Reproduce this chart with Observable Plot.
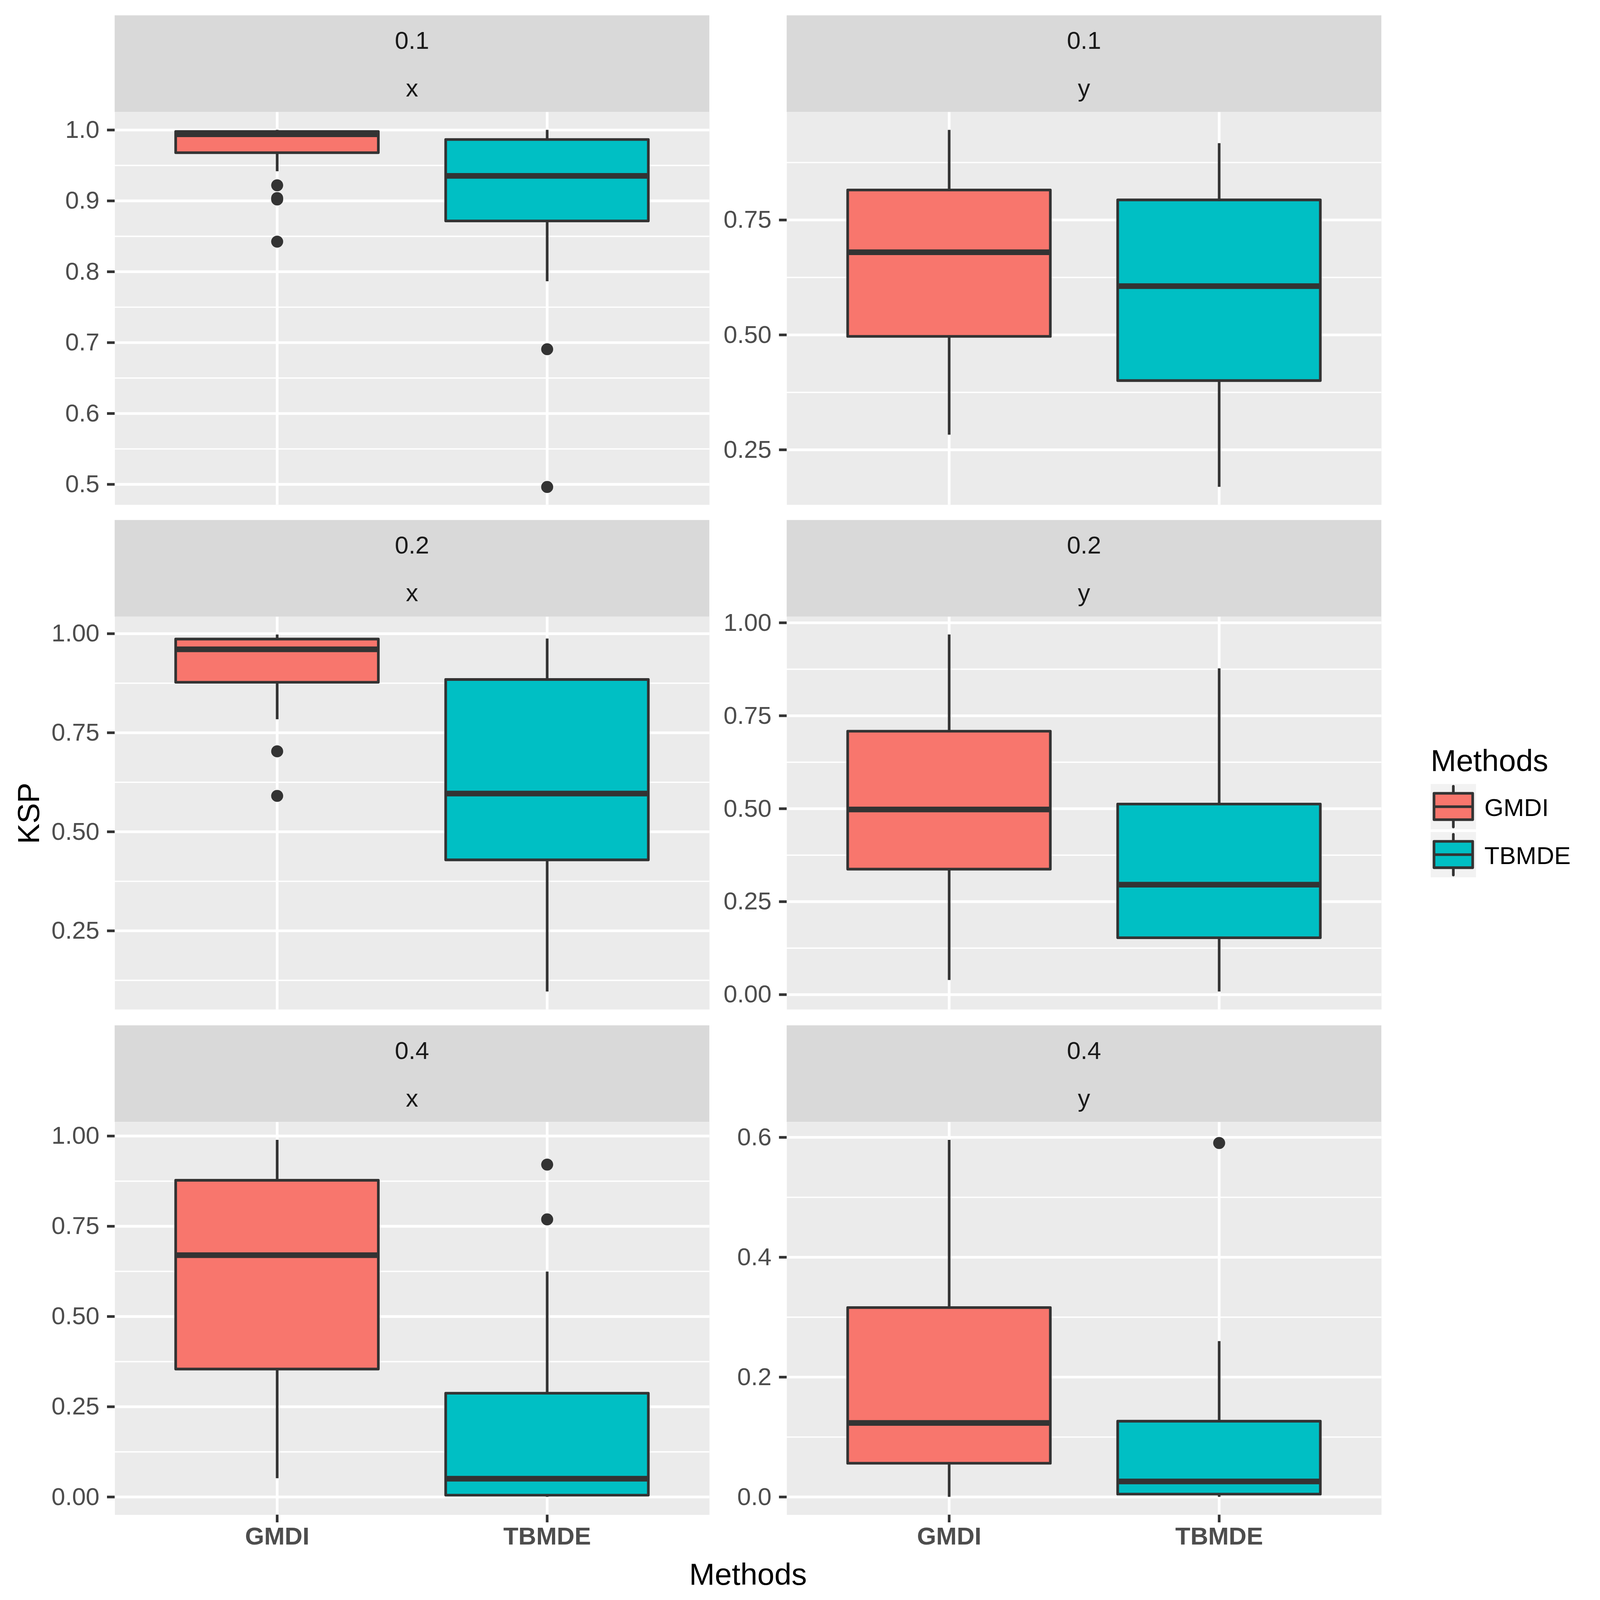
<!DOCTYPE html>
<html>
<head>
<meta charset="utf-8">
<script src="https://cdn.jsdelivr.net/npm/d3@7"></script>
<script src="https://cdn.jsdelivr.net/npm/@observablehq/plot@0.6"></script>
<style>
  html, body { margin: 0; padding: 0; background: #ffffff; overflow: hidden; }
  #root { position: absolute; left: 0; top: 0; width: 4800px; height: 4800px; background: #ffffff; overflow: hidden;
          font-family: "Liberation Sans", Arial, sans-serif; transform-origin: 0 0; }
  #root > svg { position: absolute; }
</style>
</head>
<body>
<div id="root"></div>
<script>
// ---------- data ----------
const methods = ["GMDI", "TBMDE"];
const methodColors = ["#F8766D", "#00BFC4"];
const rowLabels = ["0.1", "0.2", "0.4"];   // strip line 1
const colLabels = ["x", "y"];              // strip line 2
// panel order: 0.1/x, 0.1/y, 0.2/x, 0.2/y, 0.4/x, 0.4/y ; inner order: [GMDI, TBMDE]
const whiskerLow  = [[0.9416, 0.7864], [0.2825, 0.1691], [0.7836, 0.0965], [0.039, 0.008], [0.0515, 0.0], [0.0, 0.0]];
const lowerQuart  = [[0.9678, 0.8715], [0.4964, 0.4003], [0.877, 0.4287], [0.337, 0.1526], [0.354, 0.0046], [0.056, 0.0045]];
const medians     = [[0.994, 0.9353], [0.6799, 0.6062], [0.9606, 0.5965], [0.498, 0.2956], [0.670, 0.0506], [0.1235, 0.0259]];
const upperQuart  = [[0.9977, 0.9864], [0.815, 0.7934], [0.986, 0.884], [0.708, 0.512], [0.877, 0.287], [0.3158, 0.1262]];
const whiskerHigh = [[1.0, 1.0], [0.9458, 0.9169], [0.9975, 0.9874], [0.968, 0.877], [0.989, 0.624], [0.5956, 0.2598]];
const outliers = [
  [[0.922, 0.904, 0.902, 0.8425], [0.6907, 0.4963]],
  [[], []],
  [[0.703, 0.5906], []],
  [[], []],
  [[], [0.921, 0.769]],
  [[], [0.5906]]
];
const yTicks = [
  [0.5, 0.6, 0.7, 0.8, 0.9, 1.0],
  [0.25, 0.5, 0.75],
  [0.25, 0.5, 0.75, 1.0],
  [0, 0.25, 0.5, 0.75, 1.0],
  [0, 0.25, 0.5, 0.75, 1.0],
  [0, 0.2, 0.4, 0.6]
];
const yTickDecimals = [1, 2, 2, 2, 2, 1];
const xTitle = "Methods";
const yTitle = "KSP";
const legendTitle = "Methods";

// ---------- layout ----------
const FONT = '"Liberation Sans", Arial, sans-serif';
const stripTop = [46, 1560, 3076];
const stripH = 290;
const panelH = 1178;
const panelW = 1784;
const colLeft = [344, 2360];
const marginL = [344, 232];
const lineW = 8;
const dark = "#333333";

const root = document.getElementById("root");
function fit() {
  const vw = document.documentElement.clientWidth || window.innerWidth;
  const vh = document.documentElement.clientHeight || window.innerHeight;
  const s = Math.min(vw, vh) / 4800;
  root.style.transform = `scale(${s})`;
}
fit();
window.addEventListener("resize", fit);

// background overlay (strips, titles, legend)
const over = d3.create("svg")
  .attr("width", 4800).attr("height", 4800)
  .style("left", "0px").style("top", "0px")
  .style("font-family", FONT);

for (let r = 0; r < 3; r++) {
  for (let c = 0; c < 2; c++) {
    const g = over.append("g").attr("transform", `translate(${colLeft[c]},${stripTop[r]})`);
    g.append("rect").attr("width", panelW).attr("height", stripH).attr("fill", "#D9D9D9");
    g.append("text").attr("x", panelW / 2).attr("y", 101).attr("text-anchor", "middle")
      .attr("font-size", 74).attr("fill", "#1A1A1A").text(rowLabels[r]);
    g.append("text").attr("x", panelW / 2).attr("y", 244).attr("text-anchor", "middle")
      .attr("font-size", 74).attr("fill", "#1A1A1A").text(colLabels[c]);
  }
}
// axis titles
over.append("text").attr("x", (colLeft[0] + colLeft[1] + panelW) / 2).attr("y", 4754)
  .attr("text-anchor", "middle").attr("font-size", 92).attr("fill", "#000").text(xTitle);
over.append("text").attr("transform", `translate(117,${(stripTop[0] + stripH + stripTop[2] + stripH + panelH) / 2}) rotate(-90)`)
  .attr("text-anchor", "middle").attr("font-size", 92).attr("fill", "#000").text(yTitle);

// legend
const lg = over.append("g").attr("transform", "translate(4292,2200)");
lg.append("text").attr("x", 0).attr("y", 113).attr("font-size", 92).attr("fill", "#000").text(legendTitle);
methods.forEach((m, i) => {
  const k = lg.append("g").attr("transform", `translate(0,${152 + i * 144})`);
  k.append("rect").attr("width", 136).attr("height", 136).attr("fill", "#F2F2F2");
  k.append("line").attr("x1", 68).attr("x2", 68).attr("y1", 7).attr("y2", 129)
    .attr("stroke", dark).attr("stroke-width", lineW).attr("stroke-linecap", "round");
  k.append("rect").attr("x", 10).attr("y", 28).attr("width", 116).attr("height", 79)
    .attr("fill", methodColors[i]).attr("stroke", dark).attr("stroke-width", lineW).attr("stroke-linejoin", "round");
  k.append("line").attr("x1", 10).attr("x2", 126).attr("y1", 68).attr("y2", 68)
    .attr("stroke", dark).attr("stroke-width", lineW);
  k.append("text").attr("x", 161).attr("y", 96).attr("font-size", 74).attr("fill", "#000").text(m);
});
root.appendChild(over.node());

// ---------- panels ----------
for (let p = 0; p < 6; p++) {
  const r = Math.floor(p / 2), c = p % 2;
  const bottom = r === 2;
  const stats = methods.map((m, i) => ({
    method: m, lo: whiskerLow[p][i], q1: lowerQuart[p][i], med: medians[p][i],
    q3: upperQuart[p][i], hi: whiskerHigh[p][i]
  }));
  const outs = methods.flatMap((m, i) => outliers[p][i].map(v => ({method: m, v})));
  const values = [...stats.flatMap(d => [d.lo, d.hi]), ...outs.map(d => d.v)];
  const [mn, mx] = d3.extent(values);
  const pad = (mx - mn) * 0.05;
  const domain = [mn - pad, mx + pad];
  const ticks = yTicks[p];
  const step = ticks[1] - ticks[0];
  const minor = [ticks[0] - step / 2, ...ticks.map(t => t + step / 2)].filter(v => v > domain[0] && v < domain[1]);
  const ML = marginL[c];
  const MB = bottom ? 130 : 0;
  const fmt = d3.format(`.${yTickDecimals[p]}f`);

  const marks = [
    Plot.frame({fill: "#EBEBEB", stroke: "none"}),
    Plot.ruleY(minor, {stroke: "white", strokeWidth: lineW / 2}),
    Plot.ruleY(ticks, {stroke: "white", strokeWidth: lineW}),
    Plot.ruleX(methods, {x: d => d, stroke: "white", strokeWidth: lineW}),
    Plot.ruleX(stats, {x: "method", y1: "q3", y2: "hi", stroke: dark, strokeWidth: lineW}),
    Plot.ruleX(stats, {x: "method", y1: "lo", y2: "q1", stroke: dark, strokeWidth: lineW}),
    Plot.barY(stats, {x: "method", y1: "q1", y2: "q3", fill: "method", stroke: dark, strokeWidth: lineW, strokeLinejoin: "round"}),
    Plot.tickY(stats, {x: "method", y: "med", stroke: dark, strokeWidth: 17}),
    Plot.dot(outs, {x: "method", y: "v", r: 18, fill: dark, stroke: "none"}),
    Plot.axisY(ticks, {tickSize: 23, tickPadding: 23, fontSize: 74, tickFormat: fmt,
      stroke: dark, strokeWidth: lineW, fill: "#4D4D4D", label: null, fontFamily: FONT})
  ];
  if (bottom) {
    marks.push(Plot.axisX({tickSize: 23, tickPadding: 13, fontSize: 74, fontWeight: "bold",
      stroke: dark, strokeWidth: lineW, fill: "#4D4D4D", label: null, fontFamily: FONT}));
  }

  const chart = Plot.plot({
    width: ML + panelW,
    height: panelH + MB,
    marginLeft: ML, marginRight: 0, marginTop: 0, marginBottom: MB,
    style: {background: "transparent", fontFamily: FONT, overflow: "visible"},
    x: bottom
      ? {type: "band", domain: methods, paddingInner: 0.25, paddingOuter: 0.225}
      : {type: "band", domain: methods, paddingInner: 0.25, paddingOuter: 0.225, axis: null},
    y: {domain},
    color: {domain: methods, range: methodColors},
    marks
  });
  chart.style.position = "absolute";
  chart.style.left = (colLeft[c] - ML) + "px";
  chart.style.top = (stripTop[r] + stripH) + "px";
  chart.style.maxWidth = "none";
  root.appendChild(chart);
}
</script>
</body>
</html>
